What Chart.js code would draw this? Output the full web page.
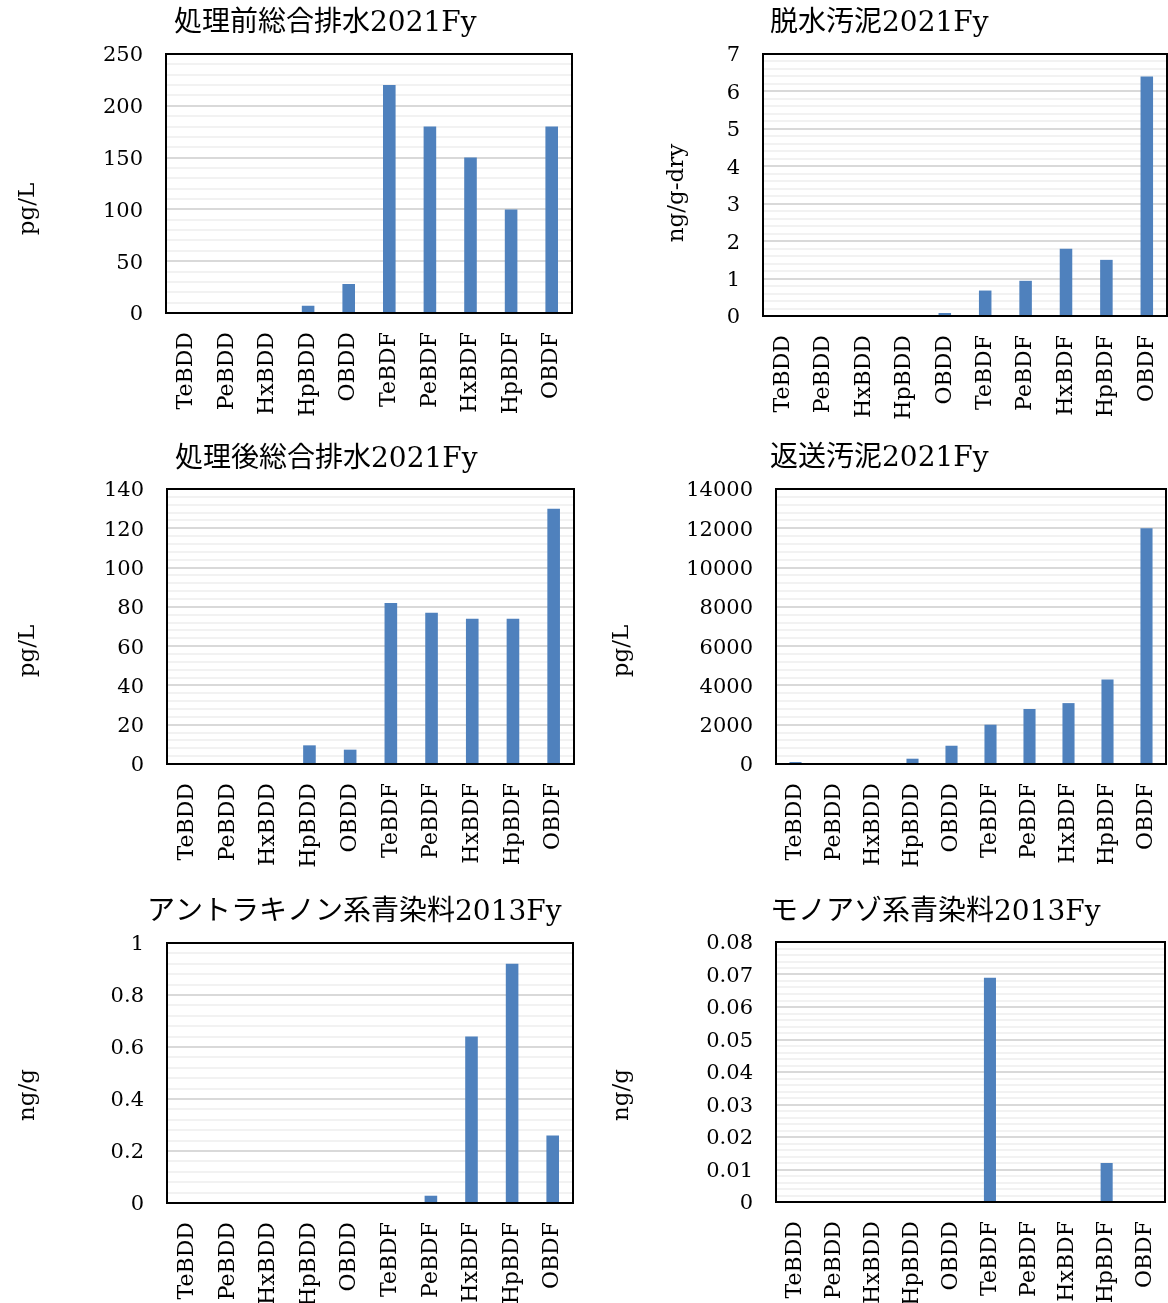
<!DOCTYPE html>
<html>
<head>
<meta charset="utf-8">
<script src="https://cdn.jsdelivr.net/npm/chart.js@4/dist/chart.umd.min.js"></script>
<style>
  html, body { margin: 0; padding: 0; background: #ffffff; }
  #wrap { position: relative; width: 1168px; height: 1303px; overflow: hidden; background: #ffffff; }
  #wrap canvas { position: absolute; }
</style>
</head>
<body>
<div id="wrap"></div>
<script>
// Congeners on the category axis
const categories = ['TeBDD', 'PeBDD', 'HxBDD', 'HpBDD', 'OBDD', 'TeBDF', 'PeBDF', 'HxBDF', 'HpBDF', 'OBDF'];

// Measured concentrations, one array per sample
const rawWater2021       = [0, 0, 0, 7, 28, 220, 180, 150, 100, 180];           // pg/L
const dewateredSludge2021 = [0, 0, 0, 0, 0.08, 0.68, 0.94, 1.8, 1.5, 6.4];      // ng/g-dry
const treatedWater2021   = [0, 0, 0, 9.5, 7.3, 82, 77, 74, 74, 130];            // pg/L
const returnSludge2021   = [100, 0, 0, 270, 930, 2000, 2800, 3100, 4300, 12000]; // pg/L
const anthraquinoneDye2013 = [0, 0, 0, 0, 0, 0, 0.028, 0.64, 0.92, 0.26];       // ng/g
const monoazoDye2013     = [0, 0, 0, 0, 0, 0.069, 0, 0, 0.012, 0];              // ng/g

// Panel titles, units and value-axis ranges
const titles = ['処理前総合排水2021Fy', '脱水汚泥2021Fy', '処理後総合排水2021Fy', '返送汚泥2021Fy', 'アントラキノン系青染料2013Fy', 'モノアゾ系青染料2013Fy'];
const units = ['pg/L', 'ng/g-dry', 'pg/L', 'pg/L', 'ng/g', 'ng/g'];
const axisMax = [250, 7, 140, 14000, 1, 0.08];
const axisStep = [50, 1, 20, 2000, 0.2, 0.01];
const series = [rawWater2021, dewateredSludge2021, treatedWater2021, returnSludge2021, anthraquinoneDye2013, monoazoDye2013];

// Page layout: canvas box, plot rectangle, title anchor, unit label centre
const layout = [
  { box: [0, 0, 610, 440],      plot: [166, 54, 572, 313],   title: [174, 24],  unit: [28, 209] },
  { box: [600, 0, 1200, 440],   plot: [763, 54, 1167, 316],  title: [770, 24],  unit: [677, 193] },
  { box: [0, 430, 610, 890],    plot: [167, 489, 574, 764],  title: [175, 460], unit: [28, 651] },
  { box: [600, 430, 1200, 890], plot: [776, 489, 1166, 764], title: [770, 459], unit: [622, 651] },
  { box: [0, 885, 610, 1320],   plot: [167, 943, 573, 1203], title: [147, 913], unit: [28, 1095] },
  { box: [600, 885, 1200, 1320],plot: [776, 942, 1165, 1202],title: [770, 913], unit: [622, 1095] }
];

const FONT = '"DejaVu Serif", "Noto Sans CJK JP", serif';
const BAR_COLOR = '#4f81bd';
const MINOR_DIVS = 5;

function fmt(v) {
  return String(parseFloat(v.toFixed(6)));
}

// Titles, rotated unit labels and the black plot frame
const panelDecor = {
  id: 'panelDecor',
  afterDraw(chart, args, opts) {
    const ctx = chart.ctx;
    const a = chart.chartArea;
    ctx.save();
    ctx.strokeStyle = '#000000';
    ctx.lineWidth = 2;
    ctx.strokeRect(a.left, a.top, a.right - a.left, a.bottom - a.top);

    ctx.fillStyle = '#000000';
    ctx.font = '28px ' + FONT;
    ctx.textAlign = 'left';
    ctx.textBaseline = 'middle';
    ctx.fillText(opts.title, opts.titleX, opts.titleY);

    ctx.translate(opts.unitX, opts.unitY);
    ctx.rotate(-Math.PI / 2);
    ctx.font = '23px ' + FONT;
    ctx.textAlign = 'center';
    ctx.textBaseline = 'middle';
    ctx.fillText(opts.unit, 0, 0);
    ctx.restore();
  }
};

const wrap = document.getElementById('wrap');

series.forEach((values, i) => {
  const L = layout[i];
  const [bx0, by0, bx1, by1] = L.box;
  const [px0, py0, px1, py1] = L.plot;
  const canvas = document.createElement('canvas');
  canvas.width = bx1 - bx0;
  canvas.height = by1 - by0;
  canvas.style.left = bx0 + 'px';
  canvas.style.top = by0 + 'px';
  canvas.style.width = (bx1 - bx0) + 'px';
  canvas.style.height = (by1 - by0) + 'px';
  wrap.appendChild(canvas);

  const max = axisMax[i];
  const step = axisStep[i];

  new Chart(canvas, {
    type: 'bar',
    data: {
      labels: categories,
      datasets: [{
        data: values,
        backgroundColor: BAR_COLOR,
        borderWidth: 0,
        categoryPercentage: 1,
        barPercentage: 0.31
      }]
    },
    options: {
      responsive: false,
      devicePixelRatio: 1,
      animation: false,
      events: [],
      layout: {
        padding: { top: py0 - by0, right: bx1 - px1, left: 0, bottom: 0 }
      },
      plugins: {
        legend: { display: false },
        tooltip: { enabled: false },
        title: { display: false },
        panelDecor: {
          title: titles[i],
          unit: units[i],
          titleX: L.title[0] - bx0,
          titleY: L.title[1] - by0,
          unitX: L.unit[0] - bx0,
          unitY: L.unit[1] - by0
        }
      },
      scales: {
        x: {
          grid: { display: false, drawTicks: false },
          border: { display: false },
          ticks: {
            autoSkip: false,
            minRotation: 90,
            maxRotation: 90,
            padding: 19,
            color: '#000000',
            font: { family: FONT, size: 22 }
          },
          afterFit(scale) { scale.height = by1 - py1; }
        },
        y: {
          min: 0,
          max: max,
          grid: {
            drawTicks: false,
            lineWidth: 2,
            color: (c) => (c.tick && c.tick.isMain ? '#d9d9d9' : '#f2f2f2')
          },
          border: { display: false },
          ticks: {
            autoSkip: false,
            padding: 23,
            labelOffset: 2,
            color: '#000000',
            font: { family: FONT, size: 21, lineHeight: 1.05 },
            callback: (value, index, ticks) => (ticks[index].isMain ? fmt(value) : '')
          },
          afterBuildTicks(scale) {
            const n = Math.round(max / step) * MINOR_DIVS;
            const t = [];
            for (let k = 0; k <= n; k++) {
              t.push({ value: parseFloat((k * step / MINOR_DIVS).toFixed(9)), isMain: k % MINOR_DIVS === 0 });
            }
            scale.ticks = t;
          },
          afterFit(scale) { scale.width = px0 - bx0; }
        }
      }
    },
    plugins: [panelDecor]
  });
});
</script>
</body>
</html>
